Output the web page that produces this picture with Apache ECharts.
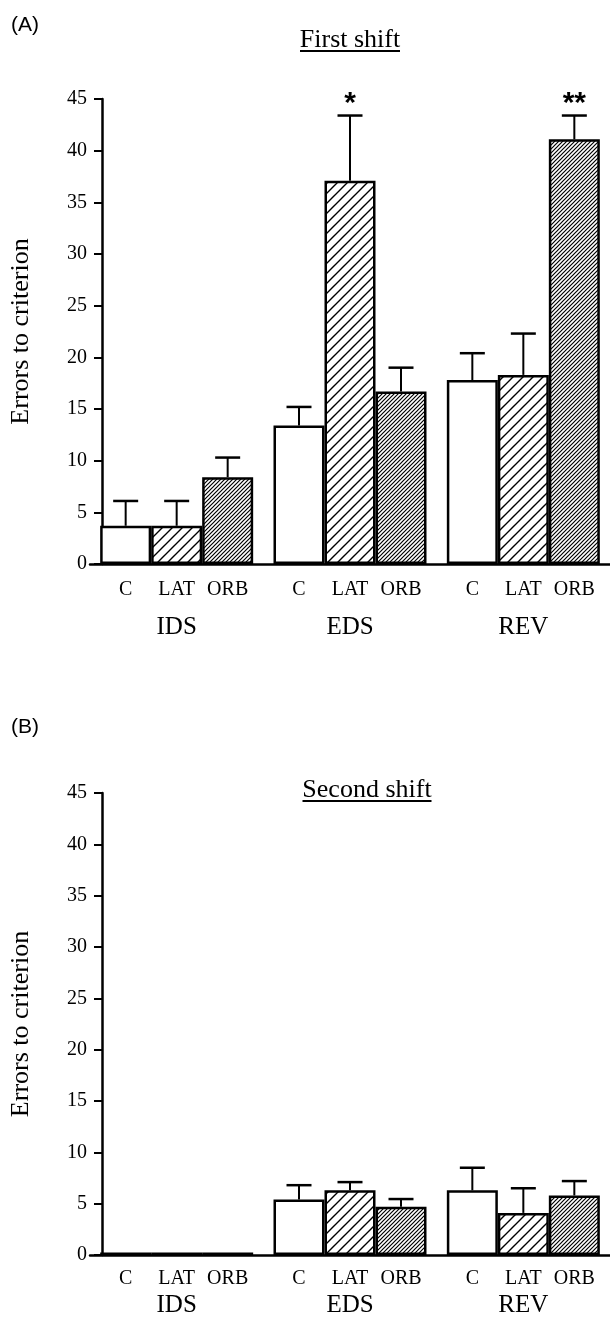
<!DOCTYPE html>
<html>
<head>
<meta charset="utf-8">
<script src="https://cdn.jsdelivr.net/npm/echarts@6/dist/echarts.min.js"></script>
<style>
  html, body { margin: 0; padding: 0; background: #fff; }
  #errorsChart { width: 610px; height: 1326px; }
</style>
</head>
<body>
<div id="errorsChart"></div>
<script>
// categories
const groups = ['IDS', 'EDS', 'REV'];
const treatments = ['C', 'LAT', 'ORB'];
const yTicks = [0, 5, 10, 15, 20, 25, 30, 35, 40, 45];

// (A) first shift: means and upper error (SEM)
const firstC = [3.7, 13.4, 17.8];
const firstCErr = [2.4, 1.8, 2.6];
const firstLAT = [3.7, 37.1, 18.3];
const firstLATErr = [2.4, 6.3, 4.0];
const firstORB = [8.4, 16.7, 41.1];
const firstORBErr = [1.9, 2.3, 2.3];
const firstStars = [['', '', ''], ['', '*', ''], ['', '', '**']];

// (B) second shift
const secondC = [0.25, 5.4, 6.3];
const secondCErr = [0, 1.4, 2.2];
const secondLAT = [0.25, 6.3, 4.1];
const secondLATErr = [0, 0.8, 2.4];
const secondORB = [0.25, 4.7, 5.8];
const secondORBErr = [0, 0.75, 1.4];
const secondStars = [['', '', ''], ['', '', ''], ['', '', '']];

const serif = '"Liberation Serif", "DejaVu Serif", serif';
const sans = '"Liberation Sans", Arial, sans-serif';
const BAR_W = 51;

function hatch(step, lw) {
  const c = document.createElement('canvas');
  c.width = step; c.height = step;
  const g = c.getContext('2d');
  g.fillStyle = '#fff';
  g.fillRect(0, 0, step, step);
  g.strokeStyle = '#000';
  g.lineWidth = lw;
  g.beginPath();
  g.moveTo(0, step); g.lineTo(step, 0);
  g.moveTo(-step / 2, step / 2); g.lineTo(step / 2, -step / 2);
  g.moveTo(step / 2, step * 1.5); g.lineTo(step * 1.5, step / 2);
  g.stroke();
  return c;
}
const fills = ['#fff', { image: hatch(10, 1.4), repeat: 'repeat' }, { image: hatch(4, 1.2), repeat: 'repeat' }];

function barSeries(idx, k, values) {
  return {
    type: 'bar',
    xAxisIndex: idx, yAxisIndex: idx,
    data: values,
    barWidth: BAR_W,
    barGap: '0%',
    itemStyle: { color: fills[k], borderColor: '#000', borderWidth: 2.5 },
    silent: true,
    z: 2
  };
}

function errSeries(idx, k, values, errs, stars) {
  return {
    type: 'custom',
    xAxisIndex: idx, yAxisIndex: idx,
    data: values.map((v, i) => [i, v, v + errs[i]]),
    encode: { x: 0, y: [1, 2] },
    silent: true,
    z: 5,
    renderItem(params, api) {
      const ci = api.value(0), mean = api.value(1), top = api.value(2);
      const base = api.coord([ci, mean]);
      const tip = api.coord([ci, top]);
      const x = base[0] + (k - 1) * BAR_W;
      const children = [];
      if (top > mean) {
        children.push({ type: 'line', shape: { x1: x, y1: base[1], x2: x, y2: tip[1] }, style: { stroke: '#000', lineWidth: 2 } });
        children.push({ type: 'line', shape: { x1: x - 12.5, y1: tip[1], x2: x + 12.5, y2: tip[1] }, style: { stroke: '#000', lineWidth: 2.5 } });
      }
      const s = stars[k][params.dataIndex];
      if (s) {
        children.push({ type: 'text', x: x, y: tip[1] + 3, style: { text: s, fill: '#000', font: 'bold 30px ' + sans, align: 'center', verticalAlign: 'bottom' } });
      }
      return { type: 'group', children: children };
    }
  };
}

function xAxisFor(idx, m, l1, l2) {
  return {
    type: 'category', gridIndex: idx, data: groups,
    axisLine: { lineStyle: { color: '#000', width: 2.5 } },
    axisTick: { show: false },
    axisLabel: {
      interval: 0, margin: m, color: '#000',
      formatter: v => treatments.map(t => '{s|' + t + '}').join('') + '\n{g|' + v + '}',
      rich: {
        s: { width: BAR_W, align: 'center', fontSize: 20, lineHeight: l1, fontFamily: serif, color: '#000' },
        g: { fontSize: 25, lineHeight: l2, fontFamily: serif, color: '#000' }
      }
    }
  };
}

function yAxisFor(idx) {
  return {
    type: 'value', gridIndex: idx, min: yTicks[0], max: yTicks[yTicks.length - 1], interval: 5,
    offset: -12,
    name: 'Errors to criterion', nameLocation: 'middle', nameGap: 68,
    nameTextStyle: { fontSize: 26, fontFamily: serif, color: '#000' },
    axisLine: { show: true, lineStyle: { color: '#000', width: 2.5 } },
    axisTick: { show: true, inside: false, length: 8, lineStyle: { color: '#000', width: 2 } },
    axisLabel: { margin: 15, fontSize: 20, fontFamily: serif, color: '#000' },
    splitLine: { show: false }
  };
}

function titleWithLine(text, cx, cy, w) {
  return {
    type: 'group', children: [
      { type: 'text', x: cx, y: cy, style: { text: text, font: '26px ' + serif, fill: '#000', align: 'center', verticalAlign: 'middle' } },
      { type: 'rect', shape: { x: cx - w / 2, y: cy + 10, width: w, height: 2 }, style: { fill: '#000' } }
    ]
  };
}

const chart = echarts.init(document.getElementById('errorsChart'));
chart.setOption({
  animation: false,
  backgroundColor: '#fff',
  grid: [
    { left: 78, right: -15, top: 99, height: 465 },
    { left: 78, right: -15, top: 793, height: 462 }
  ],
  xAxis: [xAxisFor(0, 10, 32, 42), xAxisFor(1, 8, 32, 20)],
  yAxis: [yAxisFor(0), yAxisFor(1)],
  graphic: [
    { type: 'text', x: 11, y: 25, style: { text: '(A)', font: '21px ' + sans, fill: '#000', verticalAlign: 'middle' } },
    { type: 'text', x: 11, y: 727, style: { text: '(B)', font: '21px ' + sans, fill: '#000', verticalAlign: 'middle' } },
    titleWithLine('First shift', 350, 40, 100),
    titleWithLine('Second shift', 367, 790, 129)
  ],
  series: [
    barSeries(0, 0, firstC), barSeries(0, 1, firstLAT), barSeries(0, 2, firstORB),
    errSeries(0, 0, firstC, firstCErr, firstStars),
    errSeries(0, 1, firstLAT, firstLATErr, firstStars),
    errSeries(0, 2, firstORB, firstORBErr, firstStars),
    barSeries(1, 0, secondC), barSeries(1, 1, secondLAT), barSeries(1, 2, secondORB),
    errSeries(1, 0, secondC, secondCErr, secondStars),
    errSeries(1, 1, secondLAT, secondLATErr, secondStars),
    errSeries(1, 2, secondORB, secondORBErr, secondStars)
  ]
});
window.addEventListener('resize', () => chart.resize());
</script>
</body>
</html>
